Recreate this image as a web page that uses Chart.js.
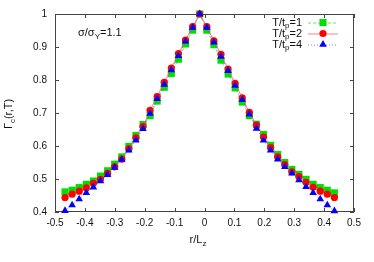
<!DOCTYPE html>
<html>
<head>
<meta charset="utf-8">
<script src="https://cdn.jsdelivr.net/npm/chart.js@4/dist/chart.umd.min.js"></script>
<style>
html, body { margin: 0; padding: 0; background: #fff; }
</style>
</head>
<body>
<canvas id="corrChart" width="374" height="262"></canvas>
<script>
// r/Lz positions of the samples
const rValues = [
  -0.4665, -0.4428, -0.4191, -0.3954, -0.3717, -0.3480, -0.3242, -0.3005, -0.2768, -0.2531,
  -0.2294, -0.2057, -0.1820, -0.1583, -0.1346, -0.1109, -0.0871, -0.0634, -0.0397, -0.0160,
  0.0077, 0.0314, 0.0551, 0.0788, 0.1025, 0.1262, 0.1500, 0.1737, 0.1974, 0.2211,
  0.2448, 0.2685, 0.2922, 0.3159, 0.3396, 0.3633, 0.3871, 0.4108, 0.4345
];
// T/tp = 1
const gammaT1 = [
  0.461, 0.466, 0.474, 0.484, 0.494, 0.509, 0.525, 0.545, 0.567, 0.599,
  0.632, 0.665, 0.692, 0.736, 0.778, 0.820, 0.863, 0.909, 0.951, 1.000,
  0.951, 0.907, 0.860, 0.818, 0.776, 0.733, 0.692, 0.666, 0.635, 0.602,
  0.574, 0.550, 0.529, 0.514, 0.499, 0.484, 0.474, 0.466, 0.458
];
// T/tp = 2
const gammaT2 = [
  0.444, 0.454, 0.463, 0.473, 0.487, 0.499, 0.517, 0.537, 0.560, 0.592,
  0.625, 0.659, 0.708, 0.750, 0.793, 0.836, 0.880, 0.921, 0.962, 1.000,
  0.962, 0.919, 0.878, 0.833, 0.790, 0.746, 0.702, 0.663, 0.627, 0.595,
  0.567, 0.544, 0.522, 0.507, 0.490, 0.475, 0.463, 0.454, 0.444
];
// T/tp = 4
const gammaT4 = [
  0.404, 0.421, 0.439, 0.458, 0.475, 0.494, 0.513, 0.535, 0.559, 0.587,
  0.617, 0.652, 0.698, 0.743, 0.786, 0.830, 0.873, 0.917, 0.959, 1.000,
  0.959, 0.914, 0.871, 0.828, 0.783, 0.740, 0.696, 0.653, 0.617, 0.587,
  0.560, 0.537, 0.517, 0.497, 0.476, 0.458, 0.439, 0.421, 0.403
];
const xTicks = [-0.5, -0.4, -0.3, -0.2, -0.1, 0, 0.1, 0.2, 0.3, 0.4, 0.5];
const yTicks = [0.4, 0.5, 0.6, 0.7, 0.8, 0.9, 1];

const FONT = '"Liberation Sans", Arial, sans-serif';

const series = [
  { label: 'T/tp=1', sub: ['T/t', 'p', '=1'], values: gammaT1, color: '#00e000', line: 'rgba(60,220,60,0.75)', dash: [3, 2], style: 'rect', radius: 5, order: 3 },
  { label: 'T/tp=2', sub: ['T/t', 'p', '=2'], values: gammaT2, color: '#ff0000', line: 'rgba(255,90,90,0.75)', dash: [], style: 'circle', radius: 3.6, order: 2 },
  { label: 'T/tp=4', sub: ['T/t', 'p', '=4'], values: gammaT4, color: '#0000ff', line: 'rgba(90,90,255,0.75)', dash: [1, 2], style: 'triangle', radius: 4.4, order: 1 }
];

// text with subscripts: parts = [[text, isSub], ...]
function drawRich(ctx, parts, x, y, align, size) {
  const big = size + 'px ' + FONT;
  const small = Math.round(size * 0.75) + 'px ' + FONT;
  let w = 0;
  parts.forEach(p => { ctx.font = p[1] ? small : big; w += ctx.measureText(p[0]).width; });
  let cx = align === 'right' ? x - w : (align === 'center' ? x - w / 2 : x);
  ctx.textAlign = 'left';
  ctx.textBaseline = 'middle';
  parts.forEach(p => {
    ctx.font = p[1] ? small : big;
    ctx.fillText(p[0], cx, y + (p[1] ? size * 0.3 : 0));
    cx += ctx.measureText(p[0]).width;
  });
}

const framePlugin = {
  id: 'frame',
  beforeDatasetsDraw(chart) {
    const { ctx, chartArea: a, scales } = chart;
    ctx.save();
    ctx.strokeStyle = '#444';
    ctx.lineWidth = 1;
    ctx.strokeRect(a.left + 0.5, a.top + 0.5, a.right - a.left - 1, a.bottom - a.top - 1);
    ctx.beginPath();
    xTicks.forEach(v => {
      const px = Math.round(scales.x.getPixelForValue(v)) + 0.5;
      ctx.moveTo(px, a.bottom); ctx.lineTo(px, a.bottom - 4);
      ctx.moveTo(px, a.top); ctx.lineTo(px, a.top + 4);
    });
    yTicks.forEach(v => {
      const py = Math.round(scales.y.getPixelForValue(v)) + 0.5;
      ctx.moveTo(a.left, py); ctx.lineTo(a.left + 4, py);
      ctx.moveTo(a.right, py); ctx.lineTo(a.right - 4, py);
    });
    ctx.stroke();
    ctx.restore();
  },
  afterDraw(chart) {
    const { ctx } = chart;
    ctx.save();
    ctx.fillStyle = '#111';
    // annotation
    drawRich(ctx, [['σ/σ', false], ['Y', true], ['=1.1', false]], 78, 33, 'left', 11);
    // axis titles
    drawRich(ctx, [['r/L', false], ['z', true]], 198, 240, 'center', 11);
    ctx.save();
    ctx.translate(9, 114);
    ctx.rotate(-Math.PI / 2);
    drawRich(ctx, [['Γ', false], ['c', true], ['(r,T)', false]], 0, 0, 'center', 11);
    ctx.restore();
    // legend
    const rows = [22.5, 33.5, 44.5];
    series.forEach((s, i) => {
      const y = rows[i];
      ctx.fillStyle = '#111';
      drawRich(ctx, [[s.sub[0], false], [s.sub[1], true], [s.sub[2], false]], 302, y, 'right', 11);
      ctx.strokeStyle = s.line;
      ctx.lineWidth = 1;
      ctx.setLineDash(s.dash);
      ctx.beginPath();
      ctx.moveTo(308, y + 0.5); ctx.lineTo(338, y + 0.5);
      ctx.stroke();
      ctx.setLineDash([]);
      ctx.fillStyle = s.color;
      ctx.strokeStyle = s.color;
      Chart.helpers.drawPoint(ctx, { pointStyle: s.style, radius: s.radius, borderWidth: 0, rotation: 0 }, 323, y);
    });
    ctx.restore();
  }
};

const ctx = document.getElementById('corrChart').getContext('2d');
const chart = new Chart(ctx, {
  type: 'line',
  data: {
    datasets: series.map(s => ({
      label: s.label,
      data: rValues.map((r, i) => ({ x: r, y: s.values[i] })),
      borderColor: s.line,
      borderWidth: 1,
      borderDash: s.dash,
      backgroundColor: s.color,
      pointBackgroundColor: s.color,
      pointBorderColor: s.color,
      pointBorderWidth: 0,
      pointStyle: s.style,
      pointRadius: s.radius,
      tension: 0,
      fill: false,
      clip: false,
      order: s.order
    }))
  },
  options: {
    responsive: false,
    animation: false,
    devicePixelRatio: 1,
    layout: { padding: { top: 13, right: 20, left: 0, bottom: 0 } },
    plugins: {
      legend: { display: false },
      tooltip: { enabled: false }
    },
    scales: {
      x: {
        type: 'linear',
        min: -0.5,
        max: 0.5,
        afterFit: s => { s.height = 50; },
        afterBuildTicks: s => { s.ticks = xTicks.map(v => ({ value: v })); },
        grid: { display: false, drawTicks: false },
        border: { display: false },
        ticks: {
          padding: 5,
          color: '#111',
          font: { family: FONT, size: 10 },
          maxRotation: 0,
          callback: v => String(Number(v.toFixed(1)))
        }
      },
      y: {
        min: 0.4,
        max: 1,
        afterFit: s => { s.width = 55; },
        afterBuildTicks: s => { s.ticks = yTicks.map(v => ({ value: v })); },
        grid: { display: false, drawTicks: false },
        border: { display: false },
        ticks: {
          padding: 8,
          color: '#111',
          font: { family: FONT, size: 10 },
          callback: v => String(Number(v.toFixed(1)))
        }
      }
    }
  },
  plugins: [framePlugin]
});
</script>
</body>
</html>
